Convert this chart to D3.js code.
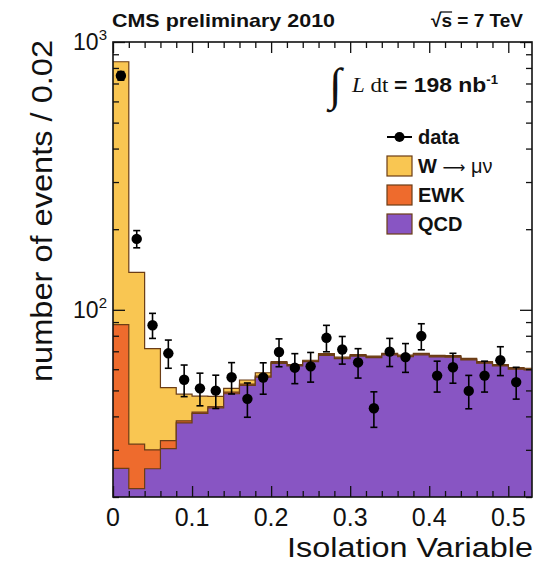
<!DOCTYPE html>
<html>
<head>
<meta charset="utf-8">
<script src="https://cdn.jsdelivr.net/npm/d3@7.9.0/dist/d3.min.js"></script>
<style>
  body { margin: 0; background: #fff; }
  svg { display: block; }
  text { font-family: "Liberation Sans", Arial, sans-serif; fill: #111; }
</style>
</head>
<body>
<svg id="chart" width="551" height="564"></svg>
<script>
// lower edges of the 0.02 wide isolation bins
const isoBins = [0.00, 0.02, 0.04, 0.06, 0.08, 0.10, 0.12, 0.14, 0.16, 0.18, 0.20, 0.22, 0.24,
                 0.26, 0.28, 0.30, 0.32, 0.34, 0.36, 0.38, 0.40, 0.42, 0.44, 0.46, 0.48, 0.50, 0.52];
const binWidth = 0.02;

// stacked MC, per component
const qcd   = [25.6, 21.5, 25.5, 30.3, 37.8, 41.0, 43.0, 48.6, 52.2, 56.0, 63.1, 61.7, 64.0,
               67.6, 65.7, 67.2, 66.3, 67.9, 66.9, 67.9, 66.7, 66.5, 65.0, 63.2, 61.7, 60.0, 59.7];
const ewk   = [62.4, 10.0, 4.5, 2.2, 0.7, 0.5, 0.5, 0.7, 0.6, 0.5, 0.4, 0.3, 0.3,
               0.4, 0.3, 0.4, 0.4, 0.4, 0.4, 0.4, 0.4, 0.4, 0.4, 0.3, 0.3, 0.3, 0.3];
const wmunu = [756, 106.5, 41.6, 18.7, 9.9, 6.1, 4.0, 1.6, 1.9, 1.7, 0.5, 0.5, 0.5,
               0.6, 0.6, 0.5, 0.5, 0.5, 0.5, 0.5, 0.5, 0.5, 0.5, 0.5, 0.5, 0.5, 0.5];

// data points (bin centres 0.01 ... 0.51) and their error bars
const dataCounts = [748, 184, 87.6, 68.8, 54.8, 50.9, 49.9, 56.0, 46.5, 55.9, 69.6, 60.8, 61.5,
                    78.6, 71.1, 63.6, 42.9, 69.8, 66.6, 79.8, 56.8, 61.0, 49.8, 56.8, 64.8, 53.7];
const dataErr    = [27.3, 13.6, 9.4, 8.3, 7.4, 7.1, 7.1, 7.5, 6.8, 7.5, 8.3, 7.8, 7.8,
                    8.9, 8.4, 8.0, 6.5, 8.4, 8.2, 8.9, 7.5, 7.8, 7.1, 7.5, 8.0, 7.3];

const xMajor = [0, 0.1, 0.2, 0.3, 0.4, 0.5];
const xMinor = [0.02, 0.04, 0.06, 0.08, 0.12, 0.14, 0.16, 0.18, 0.22, 0.24, 0.26, 0.28,
                0.32, 0.34, 0.36, 0.38, 0.42, 0.44, 0.46, 0.48, 0.52];
const yMajor = [100, 1000];
const yMajorExp = ['2', '3'];
const yMinor = [20, 30, 40, 50, 60, 70, 80, 90, 200, 300, 400, 500, 600, 700, 800, 900];

const legendItems = [
  { key: 'w',   label: ['W ', '\u27f6', ' \u03bc\u03bd'], color: '#f9c652' },
  { key: 'ewk', label: ['EWK'], color: '#ee6b2d' },
  { key: 'qcd', label: ['QCD'], color: '#8855c3' }
];

const svg = d3.select('#chart');
const pLeft = 113, pRight = 532, pTop = 42, pBottom = 497;

const x = d3.scaleLinear().domain([0, 0.53]).range([pLeft, pRight]);
const y = d3.scaleLog().domain([20, 1000]).range([pBottom, pTop]);

const rows = isoBins.map((b, i) => ({ x0: b, qcd: qcd[i], ewk: ewk[i], w: wmunu[i] }));
const stacked = d3.stack().keys(['qcd', 'ewk', 'w'])(rows);

svg.append('clipPath').attr('id', 'plotclip')
  .append('rect').attr('x', pLeft).attr('y', pTop)
  .attr('width', pRight - pLeft).attr('height', pBottom - pTop);

const plot = svg.append('g').attr('clip-path', 'url(#plotclip)');

const colorOf = {};
legendItems.forEach(d => colorOf[d.key] = d.color);

const area = d3.area()
  .curve(d3.curveStepAfter)
  .x(d => x(d.x))
  .y0(pBottom + 5)
  .y1(d => y(d.v));
const topLine = d3.line()
  .curve(d3.curveStepAfter)
  .x(d => x(d.x))
  .y(d => y(d.v));

// draw the biggest layer first so the smaller ones sit on top
stacked.slice().reverse().forEach(layer => {
  let pts = layer.map(d => ({ x: d.data.x0, v: d[1] }));
  let last = layer[layer.length - 1];
  pts.push({ x: last.data.x0 + binWidth, v: last[1] });
  plot.append('path').attr('d', area(pts)).attr('fill', colorOf[layer.key]);
  plot.append('path').attr('d', topLine(pts))
    .attr('fill', 'none').attr('stroke', '#6b3d16').attr('stroke-width', 1.2);
});

// data with error bars
const marks = svg.append('g');
dataCounts.forEach((v, i) => {
  let cx = x(isoBins[i] + binWidth / 2);
  let lo = y(Math.max(v - dataErr[i], 20)), hi = y(v + dataErr[i]);
  marks.append('line').attr('x1', cx).attr('x2', cx).attr('y1', lo).attr('y2', hi)
    .attr('stroke', '#000').attr('stroke-width', 1.6);
  [lo, hi].forEach(yy => {
    marks.append('line').attr('x1', cx - 3.5).attr('x2', cx + 3.5).attr('y1', yy).attr('y2', yy)
      .attr('stroke', '#000').attr('stroke-width', 1.6);
  });
  marks.append('circle').attr('cx', cx).attr('cy', y(v)).attr('r', 5.2).attr('fill', '#000');
});

// axes, ticks pointing into the frame
function tickAxis(axisFn, scale, values, size, tf) {
  let g = svg.append('g').attr('transform', tf)
    .call(axisFn(scale).tickValues(values).tickSize(-size).tickFormat(''));
  g.select('.domain').remove();
  g.selectAll('line').attr('stroke', '#111').attr('stroke-width', 1.3);
  return g;
}
tickAxis(d3.axisBottom, x, xMajor, 11, `translate(0,${pBottom})`);
tickAxis(d3.axisBottom, x, xMinor, 6, `translate(0,${pBottom})`);
tickAxis(d3.axisTop, x, xMajor, 11, `translate(0,${pTop})`);
tickAxis(d3.axisTop, x, xMinor, 6, `translate(0,${pTop})`);
tickAxis(d3.axisLeft, y, yMajor, 12, `translate(${pLeft},0)`);
tickAxis(d3.axisLeft, y, yMinor, 6, `translate(${pLeft},0)`);
tickAxis(d3.axisRight, y, yMajor, 12, `translate(${pRight},0)`);
tickAxis(d3.axisRight, y, yMinor, 6, `translate(${pRight},0)`);

svg.append('rect').attr('x', pLeft).attr('y', pTop)
  .attr('width', pRight - pLeft).attr('height', pBottom - pTop)
  .attr('fill', 'none').attr('stroke', '#111').attr('stroke-width', 1.6);

// tick labels
xMajor.forEach(v => {
  svg.append('text').attr('x', x(v)).attr('y', 526)
    .attr('text-anchor', 'middle').attr('font-size', 25)
    .text(v === 0 ? '0' : d3.format('.1f')(v));
});
yMajor.forEach((v, i) => {
  let t = svg.append('text').attr('x', 107).attr('y', y(v) + 8)
    .attr('text-anchor', 'end').attr('font-size', 23);
  t.append('tspan').text('10');
  t.append('tspan').attr('dy', -10).attr('font-size', 15).text(yMajorExp[i]);
});

// axis titles
svg.append('text').attr('x', 533).attr('y', 557).attr('text-anchor', 'end')
  .attr('font-size', 27).attr('textLength', 246).attr('lengthAdjust', 'spacingAndGlyphs')
  .text('Isolation Variable');
svg.append('text').attr('transform', 'translate(52,40) rotate(-90)')
  .attr('text-anchor', 'end').attr('font-size', 30)
  .attr('textLength', 342).attr('lengthAdjust', 'spacingAndGlyphs')
  .text('number of events / 0.02');

// header
svg.append('text').attr('x', 112).attr('y', 27).attr('font-size', 19).attr('font-weight', 'bold')
  .attr('textLength', 223).attr('lengthAdjust', 'spacingAndGlyphs')
  .text('CMS preliminary 2010');
const energy = svg.append('text').attr('x', 523).attr('y', 27).attr('text-anchor', 'end')
  .attr('font-size', 19).attr('font-weight', 'bold').text('\u221as = 7 TeV');
const sBox = energy.node().getExtentOfChar(1);
svg.append('line').attr('x1', sBox.x - 1).attr('x2', sBox.x + sBox.width)
  .attr('y1', 12).attr('y2', 12).attr('stroke', '#111').attr('stroke-width', 1.3);

// integrated luminosity
svg.append('text').attr('x', 329).attr('y', 100)
  .style('font-family', '"Liberation Serif", serif').attr('font-size', 46).text('\u222b');
const lumi = svg.append('text').attr('x', 352).attr('y', 92).attr('font-size', 21)
  .attr('textLength', 146).attr('lengthAdjust', 'spacingAndGlyphs');
lumi.append('tspan').style('font-family', '"Liberation Serif", serif').attr('font-style', 'italic').text('L');
lumi.append('tspan').style('font-family', '"Liberation Serif", serif').text(' dt ');
lumi.append('tspan').attr('font-weight', 'bold').text('= 198 nb');
lumi.append('tspan').attr('font-weight', 'bold').attr('font-size', 12).attr('dy', -8).text('-1');

// legend
const lg = svg.append('g');
lg.append('line').attr('x1', 387).attr('x2', 412).attr('y1', 137).attr('y2', 137)
  .attr('stroke', '#000').attr('stroke-width', 2);
lg.append('circle').attr('cx', 399.5).attr('cy', 137).attr('r', 5).attr('fill', '#000');
lg.append('text').attr('x', 418).attr('y', 144).attr('font-size', 20).attr('font-weight', 'bold').text('data');
legendItems.forEach((d, i) => {
  let yy = 156 + i * 29;
  lg.append('rect').attr('x', 387).attr('y', yy).attr('width', 25).attr('height', 20)
    .attr('fill', d.color).attr('stroke', '#6b3d16').attr('stroke-width', 1.2);
  let t = lg.append('text').attr('x', 418).attr('y', yy + 17).attr('font-size', 20);
  d.label.forEach((part, j) => {
    let sp = t.append('tspan').text(part);
    if (j === 0) sp.attr('font-weight', 'bold');
    if (j === 1) sp.style('font-family', '"DejaVu Sans", sans-serif').attr('font-size', 16);
  });
});
</script>
</body>
</html>
